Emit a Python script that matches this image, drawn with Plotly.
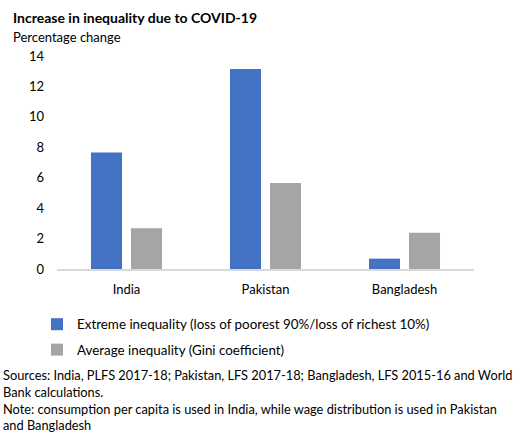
import plotly.graph_objects as go

countries = ["India", "Pakistan", "Bangladesh"]
extreme = [7.65, 13.15, 0.68]
average = [2.68, 5.65, 2.39]
series_names = ["Extreme inequality (loss of poorest 90%/loss of richest 10%)",
                "Average inequality (Gini coefficient)"]
y_ticks = [0, 2, 4, 6, 8, 10, 12, 14]

W, H = 530, 433
L, R, T, B = 57, 56, 56, 164
pw, ph = W - L - R, H - T - B

def px(x):
    return (x - L) / pw

def py(y):
    return (H - B - y) / ph

FONT = "Lato"

fig = go.Figure()
fig.add_trace(go.Bar(x=countries, y=extreme, name=series_names[0],
                     marker=dict(color="#4472C4", line=dict(width=0)),
                     legendgroup="a"))
fig.add_trace(go.Bar(x=countries, y=average, name=series_names[1],
                     marker=dict(color="#A5A5A5", line=dict(width=0)),
                     legendgroup="b"))

fig.update_layout(
    width=W, height=H,
    margin=dict(l=L, r=R, t=T, b=B, autoexpand=False),
    paper_bgcolor="white", plot_bgcolor="white",
    font=dict(family=FONT, size=13, color="#000000"),
    barmode="group", bargap=0.424, bargroupgap=0.225,
    xaxis=dict(showline=True, linecolor="#D9D9D9", linewidth=1.5,
               ticks="", showgrid=False, tickfont=dict(size=13),
               ticklabelstandoff=8, zeroline=False),
    yaxis=dict(range=[0, 14], tickvals=y_ticks, showgrid=False,
               zeroline=False, showline=False, ticks="",
               tickfont=dict(size=13), ticklabelstandoff=12),
    showlegend=True,
    legend=dict(x=px(37), xanchor="left", y=py(309), yanchor="top",
                orientation="v", tracegroupgap=5, font=dict(size=13.4),
                bgcolor="rgba(0,0,0,0)", traceorder="grouped",
                itemclick=False),
)

ann = [
    dict(text="<b>Increase in inequality due to COVID-19</b>", x=px(11), y=py(17), size=14),
    dict(text="Percentage change", x=px(11), y=py(37), size=13),
    dict(text="Sources: India, PLFS 2017-18; Pakistan, LFS 2017-18; Bangladesh, LFS 2015-16 and World", x=px(1), y=py(375), size=12.8),
    dict(text="Bank calculations.", x=px(1), y=py(392), size=12.8),
    dict(text="Note: consumption per capita is used in India, while wage distribution is used in Pakistan", x=px(1), y=py(409), size=12.8),
    dict(text="and Bangladesh", x=px(1), y=py(425), size=12.8),
]
for a in ann:
    fig.add_annotation(text=a["text"], x=a["x"], y=a["y"], xref="paper", yref="paper",
                       xanchor="left", yanchor="middle", showarrow=False,
                       font=dict(size=a["size"], family=FONT, color="#000000"))

fig.write_html("out.html", config={"displayModeBar": False},
               post_script="document.body.style.margin='0';document.body.style.overflow='hidden';")
